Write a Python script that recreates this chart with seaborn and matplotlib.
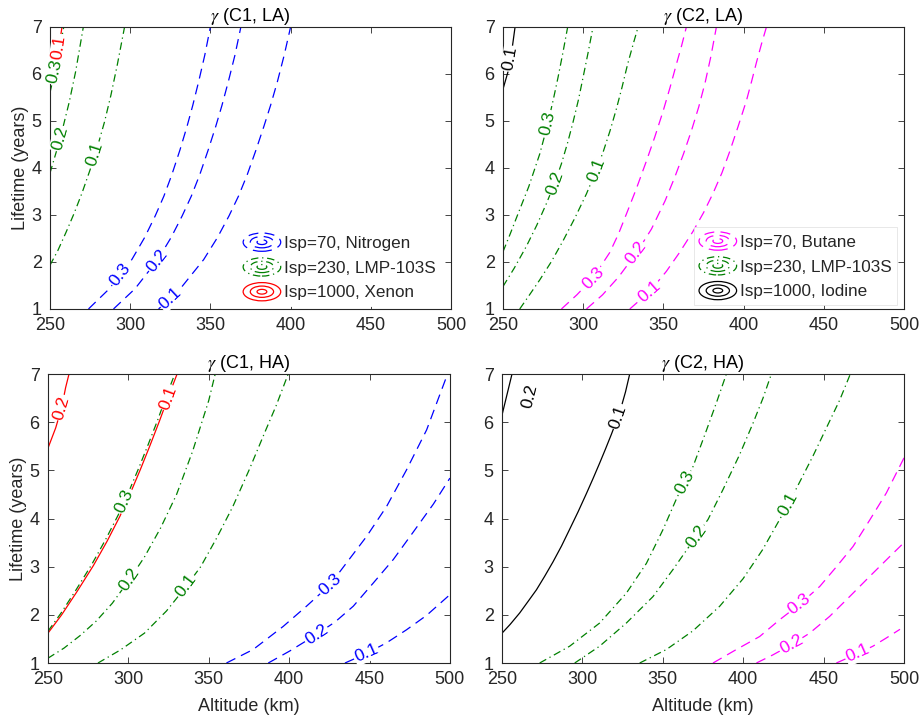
import numpy as np
import pandas as pd
import matplotlib
matplotlib.use("Agg")
import matplotlib.pyplot as plt
import seaborn as sns
from matplotlib.lines import Line2D
from matplotlib.patches import Ellipse
from matplotlib.legend_handler import HandlerBase

# Courbes de niveau : (altitude km, duree de vie annees)

# --- gamma (C1, LA) ---
c1la_n2_03 = [(274, 1.0), (287, 1.43), (301, 2.05), (309, 2.52), (315.6, 2.98), (321, 3.4), (326, 3.86),
              (331, 4.38), (335.4, 4.88), (339, 5.33), (342.7, 5.84), (346.5, 6.4), (350, 7.0)]
c1la_n2_02 = [(289.6, 1.0), (303, 1.43), (317.2, 2.05), (325.5, 2.52), (332.4, 2.98), (338.1, 3.4),
              (343.4, 3.86), (348.6, 4.38), (353.3, 4.88), (357.2, 5.33), (361.2, 5.84), (365.3, 6.4), (369, 7.0)]
c1la_n2_01 = [(317.7, 1.0), (331.2, 1.43), (345.8, 2.05), (354.4, 2.52), (361.6, 2.98), (367.5, 3.4),
              (373, 3.86), (378.4, 4.38), (383.3, 4.88), (387.5, 5.33), (391.8, 5.84), (396, 6.4), (400, 7.0)]
c1la_lmp_01 = [(250, 1.93), (255, 2.25), (260, 2.63), (265, 3.03), (270, 3.47), (275, 3.96), (280, 4.5),
               (284, 4.98), (288, 5.55), (292, 6.2), (296.5, 7.0)]
c1la_lmp_02 = [(250, 3.89), (254, 4.35), (258, 4.85), (262, 5.4), (266, 6.05), (270.8, 7.0)]
c1la_lmp_03 = [(250, 5.6), (254, 6.2), (257.5, 6.8), (258.6, 7.0)]
c1la_xe_01 = [(250, 5.9), (253, 6.15), (255.5, 6.55), (257.5, 7.0)]

# --- gamma (C2, LA) ---
c2la_c4_03 = [(286.4, 1.0), (296, 1.3), (306.1, 1.66), (316.5, 2.2), (322, 2.6), (326.9, 3.02), (333, 3.55),
              (339.4, 4.15), (344.5, 4.65), (349.7, 5.2), (354, 5.7), (358, 6.2), (361.3, 6.6), (364.3, 7.0)]
c2la_c4_02 = [(302, 1.0), (312, 1.3), (322, 1.68), (333.1, 2.19), (342.5, 2.7), (351, 3.3), (357, 3.8),
              (362.5, 4.3), (367.5, 4.8), (372, 5.3), (376, 5.82), (379.6, 6.38), (383, 7.0)]
c2la_c4_01 = [(329, 1.0), (341.4, 1.37), (351.8, 1.8), (360, 2.2), (368.4, 2.65), (375, 3.05), (380.9, 3.46),
              (386.5, 3.9), (391.3, 4.35), (396.5, 4.88), (401.7, 5.43), (405, 5.85), (408, 6.25),
              (411.2, 6.65), (414.2, 7.0)]
c2la_lmp_03 = [(250, 2.22), (254.5, 2.6), (259.4, 3.03), (266, 3.6), (272.9, 4.3), (277.6, 4.9), (281.3, 5.45),
               (284.3, 5.93), (287.3, 6.45), (290.3, 7.0)]
c2la_lmp_02 = [(250, 1.48), (257, 1.87), (264.5, 2.33), (271, 2.78), (277, 3.24), (282, 3.66), (286.4, 4.09),
               (290.2, 4.53), (293.6, 4.97), (297, 5.45), (299.9, 5.93), (303, 6.45), (306.1, 7.0)]
c2la_lmp_01 = [(260.4, 1.0), (266.5, 1.3), (272.9, 1.62), (280, 2.0), (287.4, 2.45), (295, 2.95), (302, 3.45),
               (307.5, 3.9), (312.3, 4.33), (316.6, 4.78), (320.6, 5.25), (324.2, 5.72), (327.6, 6.2),
               (331, 6.62), (334.2, 7.0)]
c2la_i2_01 = [(250, 5.68), (253.3, 6.07), (255.5, 6.5), (257.5, 7.0)]

# --- gamma (C1, HA) ---
c1ha_n2_03 = [(361, 1.0), (377.6, 1.28), (396.3, 1.76), (410.8, 2.18), (425.3, 2.62), (435.7, 3.08),
              (448.2, 3.63), (460.6, 4.25), (473, 5.01), (485.5, 5.84), (498.5, 7.0)]
c1ha_n2_02 = [(387, 1.0), (400.4, 1.25), (415, 1.55), (428.5, 1.85), (439.9, 2.18), (452.3, 2.66),
              (464.8, 3.15), (477.2, 3.72), (489.7, 4.3), (500, 4.84)]
c1ha_n2_01 = [(434.7, 1.0), (448.2, 1.2), (460.6, 1.42), (473, 1.69), (485.5, 1.99), (500, 2.42)]
c1ha_lmp_03 = [(250, 1.66), (258, 2.03), (267.5, 2.52), (277.3, 3.05), (285.8, 3.56), (293.8, 4.08),
               (300.3, 4.56), (306.5, 5.05), (312.5, 5.55), (318.3, 6.05), (323.7, 6.55), (328.9, 7.0)]
c1ha_lmp_02 = [(250, 1.1), (260, 1.31), (270, 1.57), (280, 1.87), (290, 2.24), (300, 2.7), (310, 3.2),
               (320, 3.8), (330, 4.5), (340, 5.4), (350, 6.45), (354, 7.0)]
c1ha_lmp_01 = [(281.1, 1.0), (295, 1.27), (310, 1.62), (323.7, 2.08), (335, 2.55), (345, 3.0), (355, 3.6),
               (365, 4.25), (375, 5.0), (385, 5.8), (392, 6.35), (399.4, 7.0)]
c1ha_xe_02 = [(250, 5.46), (254.8, 5.88), (258.5, 6.3), (261, 6.72), (263.1, 7.0)]
c1ha_xe_01 = [(250, 1.62), (258.5, 2.0), (268.2, 2.49), (278.2, 3.02), (286.8, 3.53), (294.8, 4.05),
              (301.3, 4.53), (307.5, 5.02), (313.5, 5.52), (319.3, 6.02), (324.8, 6.52), (330.3, 7.0)]

# --- gamma (C2, HA) ---
c2ha_c4_03 = [(381.2, 1.0), (395.7, 1.28), (410.2, 1.55), (422.7, 1.9), (435.1, 2.22), (447.6, 2.59),
              (458, 3.0), (468.3, 3.42), (478.7, 3.97), (489, 4.53), (500, 5.26)]
c2ha_c4_02 = [(408.2, 1.0), (418.5, 1.17), (429.9, 1.38), (441.3, 1.62), (453.8, 1.97), (466.2, 2.38),
              (478.7, 2.8), (491.1, 3.21), (500, 3.5)]
c2ha_c4_01 = [(457.9, 1.0), (471.4, 1.2), (480.7, 1.35), (489, 1.52), (497.5, 1.7)]
c2ha_lmp_03 = [(273.4, 1.0), (292.1, 1.35), (310.7, 1.83), (327.3, 2.45), (339.8, 3.07), (350.1, 3.77),
               (359, 4.45), (368.8, 5.08), (377, 5.82), (383.5, 6.42), (389.5, 7.0)]
c2ha_lmp_02 = [(295.2, 1.0), (310.7, 1.35), (327.3, 1.83), (343.9, 2.38), (356.3, 2.94), (367, 3.45),
               (378.1, 3.98), (387.4, 4.6), (397.8, 5.33), (406.1, 5.98), (412.3, 6.5), (417.5, 7.0)]
c2ha_lmp_01 = [(335.6, 1.0), (352.2, 1.28), (368.8, 1.67), (385.4, 2.18), (399.9, 2.75), (412, 3.35),
               (423, 4.0), (433, 4.62), (443.4, 5.3), (451.7, 5.88), (460, 6.46), (466.6, 7.0)]
c2ha_i2_02 = [(250, 6.15), (256.2, 7.0)]
c2ha_i2_01 = [(250, 1.62), (255, 1.8), (261, 2.04), (266, 2.27), (271.4, 2.52), (276.5, 2.8), (281.7, 3.1),
              (287, 3.43), (292.1, 3.78), (297.3, 4.14), (302.5, 4.52), (306.6, 4.83), (310.7, 5.15),
              (314.3, 5.44), (317.9, 5.74), (321, 6.01), (324, 6.3), (326.8, 6.63), (329.4, 7.0)]

# Legendes
legende_c1 = ["Isp=70, Nitrogen", "Isp=230, LMP-103S", "Isp=1000, Xenon"]
legende_c2 = ["Isp=70, Butane", "Isp=230, LMP-103S", "Isp=1000, Iodine"]
titres = [r"$\gamma$ (C1, LA)", r"$\gamma$ (C2, LA)", r"$\gamma$ (C1, HA)", r"$\gamma$ (C2, HA)"]
x_ticks = [250, 300, 350, 400, 450, 500]
y_ticks = [1, 2, 3, 4, 5, 6, 7]

# Style
sns.set_style("ticks")
plt.rcParams["font.family"] = ["Liberation Sans", "DejaVu Sans"]
plt.rcParams["mathtext.fontset"] = "stix"

BLEU, VERT, ROUGE, MAGENTA, NOIR = "#0000ff", "#008000", "#ff0000", "#ff00ff", "#000000"
TIRET = (0, (8, 5))
TIRET_POINT = (0, (6, 3, 1, 3))
PLEIN = "-"
GRIS = "#262626"


def trace_courbe(ax, pts, couleur, style, niveau, alt_label, y_label=None):
    df = pd.DataFrame(pts, columns=["alt", "life"])
    sns.lineplot(data=df, x="alt", y="life", ax=ax, color=couleur, linestyle=style,
                 lw=0.9, sort=False, estimator=None, zorder=2)
    alt = df["alt"].values
    life = df["life"].values
    if y_label is None:
        y_label = np.interp(alt_label, alt, life)
    i = int(np.clip(np.searchsorted(alt, alt_label), 1, len(alt) - 1))
    ang = np.degrees(np.arctan2(life[i] - life[i - 1], alt[i] - alt[i - 1]))
    ax.text(alt_label, y_label, niveau, color=couleur, fontsize=12.5, rotation=ang,
            transform_rotates_text=True, rotation_mode="anchor", ha="center", va="center",
            bbox=dict(facecolor="white", edgecolor="none", pad=0.8), zorder=3)


class AnneauxHandler(HandlerBase):
    # icone de legende MATLAB pour contour : ellipses concentriques
    def create_artists(self, legend, orig_handle, xdescent, ydescent, width, height, fontsize, trans):
        cx = 0.5 * width - xdescent
        cy = 0.5 * height - ydescent
        arts = []
        for f in (1.0, 0.62, 0.26):
            e = Ellipse((cx, cy), width * f, height * 0.98 * f, fill=False,
                        edgecolor=orig_handle.get_color(), lw=0.9)
            e.set_linestyle(orig_handle.style_anneau)
            e.set_transform(trans)
            arts.append(e)
        return arts


def ajoute_legende(ax, labels, couleurs, styles, bord, ancre):
    handles = []
    for lab, c, s in zip(labels, couleurs, styles):
        h = Line2D([], [], color=c, label=lab)
        h.style_anneau = s
        handles.append(h)
    leg = ax.legend(handles=handles, loc="lower right", bbox_to_anchor=ancre, fontsize=12.3,
                    handlelength=2.2, handleheight=1.3, handletextpad=0.2, labelspacing=0.36,
                    borderpad=0.3, borderaxespad=0.0, fancybox=False, framealpha=1,
                    edgecolor=bord, handler_map={Line2D: AnneauxHandler()})
    leg.get_frame().set_linewidth(0.6)


fig = plt.figure(figsize=(9.22, 7.27), dpi=100)
positions = [[0.0542, 0.575, 0.435, 0.388], [0.5456, 0.575, 0.435, 0.388],
             [0.0520, 0.088, 0.436, 0.3975], [0.5445, 0.088, 0.436, 0.3975]]
axs = [fig.add_axes(p) for p in positions]

# Panneau 1 : C1, LA
ax = axs[0]
trace_courbe(ax, c1la_n2_03, BLEU, TIRET, "0.3", 293.7)
trace_courbe(ax, c1la_n2_02, BLEU, TIRET, "0.2", 316.7)
trace_courbe(ax, c1la_n2_01, BLEU, TIRET, "0.1", 325)
trace_courbe(ax, c1la_lmp_01, VERT, TIRET_POINT, "0.1", 278.1)
trace_courbe(ax, c1la_lmp_02, VERT, TIRET_POINT, "0.2", 256.2)
trace_courbe(ax, c1la_lmp_03, VERT, TIRET_POINT, "0.3", 253.0)
trace_courbe(ax, c1la_xe_01, ROUGE, PLEIN, "0.1", 255.6)
ajoute_legende(ax, legende_c1, [BLEU, VERT, ROUGE], [TIRET, TIRET_POINT, PLEIN], "white", (0.975, 0.01))

# Panneau 2 : C2, LA
ax = axs[1]
trace_courbe(ax, c2la_c4_03, MAGENTA, TIRET, "0.3", 306.1)
trace_courbe(ax, c2la_c4_02, MAGENTA, TIRET, "0.2", 333.1)
trace_courbe(ax, c2la_c4_01, MAGENTA, TIRET, "0.1", 341.4)
trace_courbe(ax, c2la_lmp_03, VERT, TIRET_POINT, "0.3", 278)
trace_courbe(ax, c2la_lmp_02, VERT, TIRET_POINT, "0.2", 282.2)
trace_courbe(ax, c2la_lmp_01, VERT, TIRET_POINT, "0.1", 308.2)
trace_courbe(ax, c2la_i2_01, NOIR, PLEIN, "0.1", 254.6)
ajoute_legende(ax, legende_c2, [MAGENTA, VERT, NOIR], [TIRET, TIRET_POINT, PLEIN], "#e4e4e4", (0.982, 0.014))

# Panneau 3 : C1, HA
ax = axs[2]
trace_courbe(ax, c1ha_n2_03, BLEU, TIRET, "0.3", 425.3)
trace_courbe(ax, c1ha_n2_02, BLEU, TIRET, "0.2", 417)
trace_courbe(ax, c1ha_n2_01, BLEU, TIRET, "0.1", 448.2)
trace_courbe(ax, c1ha_lmp_01, VERT, TIRET_POINT, "0.1", 336.1)
trace_courbe(ax, c1ha_lmp_02, VERT, TIRET_POINT, "0.2", 300.8)
trace_courbe(ax, c1ha_xe_01, ROUGE, PLEIN, "0.1", 324.7)
trace_courbe(ax, c1ha_lmp_03, VERT, TIRET_POINT, "0.3", 297.7)
trace_courbe(ax, c1ha_xe_02, ROUGE, PLEIN, "0.2", 258.5)

# Panneau 4 : C2, HA
ax = axs[3]
trace_courbe(ax, c2ha_c4_03, MAGENTA, TIRET, "0.3", 435.1)
trace_courbe(ax, c2ha_c4_02, MAGENTA, TIRET, "0.2", 429.9)
trace_courbe(ax, c2ha_c4_01, MAGENTA, TIRET, "0.1", 471.4)
trace_courbe(ax, c2ha_lmp_03, VERT, TIRET_POINT, "0.3", 363.6)
trace_courbe(ax, c2ha_lmp_02, VERT, TIRET_POINT, "0.2", 370.9)
trace_courbe(ax, c2ha_lmp_01, VERT, TIRET_POINT, "0.1", 427.9)
trace_courbe(ax, c2ha_i2_01, NOIR, PLEIN, "0.1", 322.1)
trace_courbe(ax, c2ha_i2_02, NOIR, PLEIN, "0.2", 267.2, y_label=6.53)

for k, ax in enumerate(axs):
    ax.set_xlim(250, 500)
    ax.set_ylim(1, 7)
    ax.set_xticks(x_ticks)
    ax.set_yticks(y_ticks)
    ax.tick_params(direction="in", length=4, width=0.6, colors=GRIS, labelsize=13,
                   top=True, right=True)
    ax.tick_params(axis="x", pad=6)
    ax.tick_params(axis="y", pad=6)
    for sp in ax.spines.values():
        sp.set_visible(True)
        sp.set_color(GRIS)
        sp.set_linewidth(0.8)
    ax.set_title(titres[k], fontsize=13, color="black", pad=4)
    ax.set_xlabel("Altitude (km)" if k >= 2 else "", fontsize=13, color=GRIS, labelpad=7)
    ax.set_ylabel("Lifetime (years)" if k % 2 == 0 else "", fontsize=13, color=GRIS, labelpad=2)

plt.savefig("out.png", dpi=100)
